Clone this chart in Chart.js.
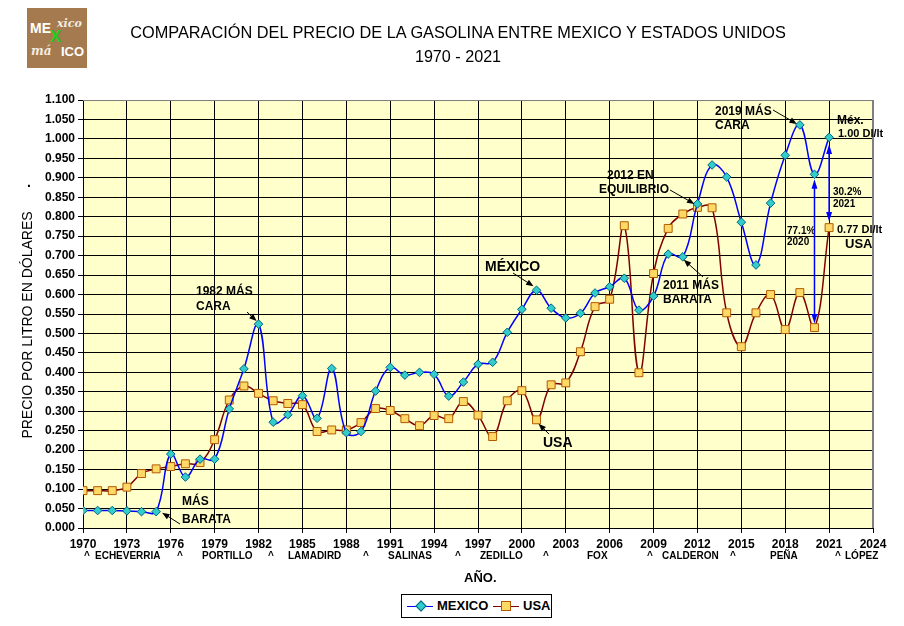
<!DOCTYPE html>
<html><head><meta charset="utf-8">
<script src="https://cdn.jsdelivr.net/npm/chart.js@4.4.1/dist/chart.umd.min.js"></script>
<style>
html,body{margin:0;padding:0;background:#fff;}
#wrap{position:relative;width:904px;height:626px;overflow:hidden;font-family:"Liberation Sans",Arial,sans-serif;color:#000;}
canvas{position:absolute;left:0;top:0;}
.t{position:absolute;white-space:nowrap;}
#logo{position:absolute;left:27px;top:8px;width:60px;height:60px;background:#A47A4E;overflow:hidden;}
#logo span{position:absolute;font-weight:bold;color:#fff;line-height:1;}
#legend{position:absolute;left:401px;top:594px;width:149px;height:22px;border:1px solid #000;background:#fff;}
.ln{position:absolute;top:11px;height:0;width:26px;}
.mk{position:absolute;}
.lt{position:absolute;top:3px;font-weight:bold;font-size:13px;line-height:16px;}
</style></head><body>
<div id="wrap">
<canvas id="c" width="904" height="626"></canvas>
<div id="logo">
  <span style="left:3px;top:13px;font-size:14px;">ME</span>
  <span style="left:30px;top:10px;font-size:11px;font-style:italic;font-family:'DejaVu Serif',serif;color:#f3ece0;">xico</span>
  <span style="left:23px;top:20px;font-size:17px;color:#22cc22;">X</span>
  <span style="left:4px;top:37px;font-size:12px;font-style:italic;font-family:'DejaVu Serif',serif;color:#f3ece0;">má</span>
  <span style="left:34px;top:37px;font-size:13px;">ICO</span>
</div>
<div class="t" style="left:0;width:916px;text-align:center;top:23px;font-size:17px;line-height:20px;transform:scaleX(0.96);transform-origin:458px 0;">COMPARACIÓN DEL PRECIO DE LA GASOLINA ENTRE MEXICO Y ESTADOS UNIDOS</div>
<div class="t" style="left:0;width:916px;text-align:center;top:47px;font-size:17px;line-height:20px;transform:scaleX(0.95);transform-origin:458px 0;">1970 - 2021</div>
<div id="legend">
  <div class="ln" style="left:5px;border-top:1.5px solid #0000FF;"></div>
  <div class="mk" style="left:15px;top:7px;width:6px;height:6px;background:#33CCCC;border:1px solid #006680;transform:rotate(45deg);"></div>
  <div class="lt" style="left:35px;">MEXICO</div>
  <div class="ln" style="left:91px;border-top:1.5px solid #800000;"></div>
  <div class="mk" style="left:99px;top:6px;width:8px;height:8px;background:#FFD966;border:1px solid #B35900;"></div>
  <div class="lt" style="left:121px;">USA</div>
</div>
</div>
<script>
const years = [1970,1971,1972,1973,1974,1975,1976,1977,1978,1979,1980,1981,1982,1983,1984,1985,1986,1987,1988,1989,1990,1991,1992,1993,1994,1995,1996,1997,1998,1999,2000,2001,2002,2003,2004,2005,2006,2007,2008,2009,2010,2011,2012,2013,2014,2015,2016,2017,2018,2019,2020,2021];
const mexico = [0.045,0.045,0.045,0.044,0.042,0.042,0.190,0.131,0.177,0.177,0.306,0.409,0.524,0.272,0.291,0.340,0.282,0.410,0.245,0.248,0.352,0.413,0.393,0.400,0.395,0.339,0.375,0.421,0.426,0.503,0.562,0.611,0.565,0.540,0.552,0.604,0.620,0.642,0.560,0.596,0.704,0.697,0.833,0.933,0.902,0.786,0.676,0.835,0.958,1.036,0.909,1.004];
const usa = [0.096,0.096,0.096,0.105,0.140,0.152,0.158,0.165,0.168,0.227,0.329,0.365,0.346,0.327,0.320,0.317,0.248,0.252,0.252,0.271,0.307,0.302,0.281,0.263,0.289,0.281,0.325,0.290,0.235,0.327,0.353,0.278,0.368,0.373,0.453,0.569,0.588,0.777,0.399,0.654,0.770,0.807,0.824,0.823,0.553,0.466,0.553,0.600,0.510,0.605,0.515,0.772];
const xTickLabels = ['1970','1973','1976','1979','1982','1985','1988','1991','1994','1997','2000','2003','2006','2009','2012','2015','2018','2021','2024'];
const presidents = [['^',84],['ECHEVERRIA',95],['^',177],['PORTILLO',202],['^',268],['LAMADIRD',288],['^',363],['SALINAS',388],['^',455],['ZEDILLO',480],['^',543],['FOX',587],['^',647],['CALDERON',662],['^',730],['PEÑA',770],['^',835],['LÓPEZ',845]];

const F = '"Liberation Sans", Arial, sans-serif';
function arrow(ctx,x1,y1,x2,y2,color,head,w,spread){
  head=head||8; w=w||1; spread=spread||0.38;
  ctx.save();
  ctx.strokeStyle=color; ctx.fillStyle=color; ctx.lineWidth=w;
  const a=Math.atan2(y2-y1,x2-x1);
  ctx.beginPath(); ctx.moveTo(x1,y1); ctx.lineTo(x2-head*0.7*Math.cos(a),y2-head*0.7*Math.sin(a)); ctx.stroke();
  ctx.beginPath(); ctx.moveTo(x2,y2);
  ctx.lineTo(x2-head*Math.cos(a-spread),y2-head*Math.sin(a-spread));
  ctx.lineTo(x2-head*Math.cos(a+spread),y2-head*Math.sin(a+spread));
  ctx.closePath(); ctx.fill();
  ctx.restore();
}
function txt(ctx,s,x,y,size,bold,align){
  ctx.font=(bold?'bold ':'')+size+'px '+F;
  ctx.textAlign=align||'left'; ctx.textBaseline='middle'; ctx.fillStyle='#000';
  ctx.fillText(s,x,y);
}

const bgPlugin={
  id:'bg',
  beforeDraw(chart){
    const {ctx,chartArea:a}=chart;
    ctx.save(); ctx.fillStyle='#fff'; ctx.fillRect(0,0,chart.width,chart.height);
    ctx.fillStyle='#FFFFCC'; ctx.fillRect(a.left,a.top,a.right-a.left,a.bottom-a.top); ctx.restore();
  },
  afterDraw(chart){
    const ctx=chart.ctx, xs=chart.scales.x, ys=chart.scales.y;
    const P=(yr,v)=>[xs.getPixelForValue(yr),ys.getPixelForValue(v)];
    const iy=yr=>years.indexOf(yr);
    ctx.save();
    ctx.translate(28,325); ctx.rotate(-Math.PI/2);
    txt(ctx,'PRECIO POR LITRO EN DÓLARES',0,0,14,false,'center');
    ctx.restore();
    txt(ctx,'.',29,183,14,true,'center');
    presidents.forEach(p=>txt(ctx,p[0],p[1],556,10,true,'left'));
    txt(ctx,'AÑO.',464,578,13,true,'left');
    txt(ctx,'1982 MÁS',196,292,12,true); txt(ctx,'CARA',196,307,12,true);
    let p=P(1982,mexico[iy(1982)]); arrow(ctx,247,312,p[0]-2,p[1]-3,'#000',8,1);
    txt(ctx,'MÁS',182,502,12,true); txt(ctx,'BARATA',182,520,12,true);
    p=P(1975,mexico[iy(1975)]); arrow(ctx,180,524,p[0]+6,p[1]+1,'#000',8,1);
    txt(ctx,'MÉXICO',485,267,14,true);
    p=P(2001,mexico[iy(2001)]); arrow(ctx,513,273,p[0]-3,p[1]-4,'#000',8,1);
    txt(ctx,'USA',543,443,14,true);
    p=P(2001,usa[iy(2001)]); arrow(ctx,549,434,p[0]+2,p[1]+4,'#000',8,1);
    txt(ctx,'2012 EN',607,176,12,true); txt(ctx,'EQUILIBRIO',599,190,12,true);
    p=P(2012,mexico[iy(2012)]); arrow(ctx,670,190,p[0]-3,p[1],'#000',8,1);
    txt(ctx,'2011 MÁS',663,286,12,true); txt(ctx,'BARATA',663,300,12,true);
    p=P(2011,mexico[iy(2011)]); arrow(ctx,703,277,p[0]+1,p[1]+3,'#000',8,1);
    txt(ctx,'2019 MÁS',715,112,12,true); txt(ctx,'CARA',715,126,12,true);
    p=P(2019,mexico[iy(2019)]); arrow(ctx,773,110,p[0]-3,p[1]-1,'#000',8,1);
    txt(ctx,'Méx.',837,121,12,true); txt(ctx,'1.00 Dl/lt',838,134,11,true);
    txt(ctx,'30.2%',833,192,10,true); txt(ctx,'2021',833,204,10,true);
    txt(ctx,'0.77 Dl/lt',837,230,11,true); txt(ctx,'USA',845,244,13,true);
    txt(ctx,'77.1%',787,231,10,true); txt(ctx,'2020',787,242,10,true);
    let a1=P(2020,mexico[iy(2020)]), b1=P(2020,usa[iy(2020)]);
    const mid1=(a1[1]+b1[1])/2;
    arrow(ctx,a1[0],mid1,a1[0],a1[1]+5,'#0000FF',10,1.5,0.3);
    arrow(ctx,b1[0],mid1,b1[0],b1[1]-4,'#0000FF',10,1.5,0.3);
    let a2=P(2021,mexico[iy(2021)]), b2=P(2021,usa[iy(2021)]);
    const mid2=(a2[1]+b2[1])/2;
    arrow(ctx,a2[0],mid2,a2[0],a2[1]+7,'#0000FF',10,1.5,0.3);
    arrow(ctx,b2[0],mid2,b2[0],b2[1]-6,'#0000FF',10,1.5,0.3);
  },
  afterDatasetsDraw(chart){
    const {ctx,chartArea:a}=chart;
    ctx.save(); ctx.strokeStyle='#808080'; ctx.lineWidth=1;
    ctx.beginPath(); ctx.moveTo(a.left,a.top+0.5); ctx.lineTo(a.right-0.5,a.top+0.5); ctx.lineTo(a.right-0.5,a.bottom); ctx.stroke();
    ctx.restore();
  }
};

new Chart(document.getElementById('c'),{
  type:'line',
  data:{datasets:[
    {label:'MEXICO',data:years.map((y,i)=>({x:y,y:mexico[i]})),borderColor:'#0000FF',borderWidth:1.5,tension:0.4,
     pointStyle:'rectRot',pointRadius:4.3,pointBackgroundColor:'#33CCCC',pointBorderColor:'#006680',pointBorderWidth:1},
    {label:'USA',data:years.map((y,i)=>({x:y,y:usa[i]})),borderColor:'#800000',borderWidth:1.5,tension:0.4,
     pointStyle:'rect',pointRadius:5.6,pointBackgroundColor:'#FFD966',pointBorderColor:'#B35900',pointBorderWidth:1}
  ]},
  options:{
    responsive:false,animation:false,devicePixelRatio:1,
    layout:{padding:{top:100,right:31,left:0,bottom:0}},
    plugins:{legend:{display:false},tooltip:{enabled:false},title:{display:false}},
    scales:{
      x:{type:'linear',min:1970,max:2024,
        ticks:{stepSize:3,autoSkip:false,maxRotation:0,color:'#000',padding:4,
          font:{family:F,size:12,weight:'bold'},
          callback:(v)=>{const i=Math.round((v-1970)/3);return xTickLabels[i]||'';}},
        grid:{color:(c)=>c.tick&&c.tick.value>=2024?'#808080':'#000',lineWidth:1,tickLength:5,drawTicks:true,tickColor:'#000'},
        border:{color:'#000',width:1},
        afterFit(s){s.height=98;}
      },
      y:{min:0,max:1.1,
        ticks:{stepSize:0.05,color:'#000',padding:3,font:{family:F,size:12,weight:'bold'},
          callback:(v)=>v.toFixed(3)},
        grid:{color:(c)=>c.tick&&c.tick.value>1.09?'#808080':'#000',lineWidth:1,tickLength:5,drawTicks:true,tickColor:'#000'},
        border:{color:'#000',width:1},
        afterFit(s){s.width=83;}
      }
    }
  },
  plugins:[bgPlugin]
});
</script>
</body></html>
